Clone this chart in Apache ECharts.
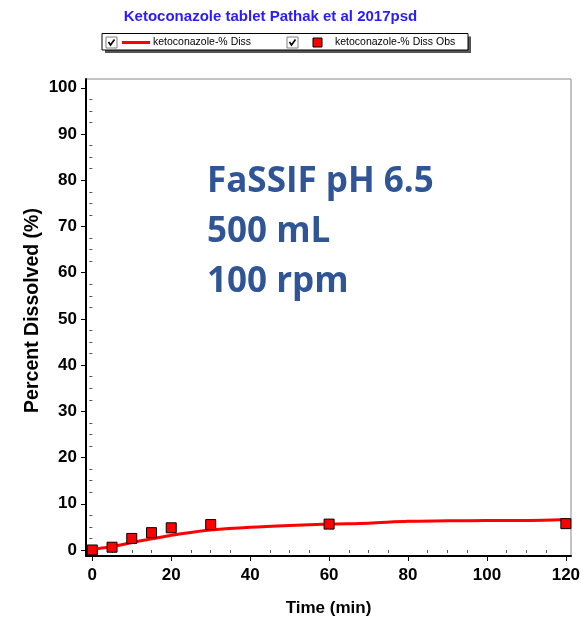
<!DOCTYPE html>
<html>
<head>
<meta charset="utf-8">
<script src="https://cdn.jsdelivr.net/npm/echarts@6/dist/echarts.min.js"></script>
<style>html,body{margin:0;padding:0;background:#fff;}#c{width:581px;height:624px;}</style>
</head>
<body>
<div id="c"></div>
<script>
// Data
var fitTime = [0, 5, 10, 15, 20, 25, 30, 40, 50, 60, 70, 80, 90, 100, 110, 120];
var fitDiss = [0.2, 0.7, 1.6, 2.4, 3.2, 3.8, 4.3, 4.9, 5.3, 5.6, 5.8, 6.2, 6.3, 6.4, 6.4, 6.6];
var obsTime = [0, 5, 10, 15, 20, 30, 60, 120];
var obsDiss = [0, 0.6, 2.5, 3.75, 4.8, 5.5, 5.6, 5.7];
var xMajor = [0, 20, 40, 60, 80, 100, 120];
var yMajor = [0, 10, 20, 30, 40, 50, 60, 70, 80, 90, 100];
var xMinor = [5, 10, 15, 25, 30, 35, 45, 50, 55, 65, 70, 75, 85, 90, 95, 105, 110, 115];
var yMinor = [2.5, 5, 7.5, 12.5, 15, 17.5, 22.5, 25, 27.5, 32.5, 35, 37.5, 42.5, 45, 47.5, 52.5, 55, 57.5, 62.5, 65, 67.5, 72.5, 75, 77.5, 82.5, 85, 87.5, 92.5, 95, 97.5];
var titleText = 'Ketoconazole tablet Pathak et al 2017psd';
var legendNames = ['ketoconazole-% Diss', 'ketoconazole-% Diss Obs'];
var noteLines = ['FaSSIF pH 6.5', '500 mL', '100 rpm'];

var chart = echarts.init(document.getElementById('c'), null, {renderer: 'canvas'});
var XMIN = -1.6, XMAX = 121.3, YMIN = -1.3, YMAX = 101.9;
var tickLabel = {color: '#000', fontFamily: 'Arial, "Liberation Sans", sans-serif', fontWeight: 'bold', fontSize: 17};

function checkbox(x, y) {
  return [
    {type: 'rect', shape: {x: x, y: y, width: 11, height: 11}, style: {fill: '#fff', stroke: '#808080', lineWidth: 1}},
    {type: 'polyline', shape: {points: [[x + 2.5, y + 5], [x + 4.5, y + 8], [x + 8.5, y + 2.5]]}, style: {stroke: '#000', lineWidth: 1.6, fill: null}}
  ];
}

var graphics = [
  {type: 'rect', shape: {x: 105, y: 36.5, width: 366, height: 16.5}, style: {fill: '#555'}},
  {type: 'rect', shape: {x: 102, y: 33.5, width: 366, height: 16.5}, style: {fill: '#fff', stroke: '#000', lineWidth: 1}}
].concat(checkbox(106, 37)).concat([
  {type: 'line', shape: {x1: 122, y1: 42.5, x2: 150, y2: 42.5}, style: {stroke: '#ff0000', lineWidth: 3}},
  {type: 'text', x: 153, y: 42.5, style: {text: legendNames[0], fill: '#000', fontFamily: 'Arial, "Liberation Sans", sans-serif', fontSize: 10.5, verticalAlign: 'middle'}}
]).concat(checkbox(287, 37)).concat([
  {type: 'rect', shape: {x: 313, y: 38, width: 9, height: 9}, style: {fill: '#ff0000', stroke: '#000', lineWidth: 1}},
  {type: 'text', x: 335, y: 42.5, style: {text: legendNames[1], fill: '#000', fontFamily: 'Arial, "Liberation Sans", sans-serif', fontSize: 10.5, verticalAlign: 'middle'}}
]);
noteLines.forEach(function (t, i) {
  graphics.push({type: 'text', x: 207, y: 182 + i * 50, style: {text: t, fill: '#2F5597', fontFamily: '"Open Sans", sans-serif', fontWeight: 'bold', fontSize: 35, verticalAlign: 'middle'}});
});

var option = {
  backgroundColor: '#fff',
  animation: false,
  title: {
    text: titleText, left: 265.5, top: 4, textAlign: 'center',
    textStyle: {color: '#2a1aff', fontFamily: 'Arial, "Liberation Sans", sans-serif', fontWeight: 'bold', fontSize: 15}
  },
  grid: {left: 86, right: 10, top: 79, bottom: 68, show: true, borderColor: '#888', borderWidth: 1, backgroundColor: '#fff', outerBoundsMode: 'none', containLabel: false},
  xAxis: [{
    type: 'value', min: XMIN, max: XMAX,
    name: 'Time (min)', nameLocation: 'middle', nameGap: 44,
    nameTextStyle: {color: '#000', fontFamily: 'Arial, "Liberation Sans", sans-serif', fontWeight: 'bold', fontSize: 17},
    axisLine: {show: true, onZero: false, lineStyle: {color: '#000', width: 2}},
    axisTick: {show: true, customValues: xMajor, length: 5, lineStyle: {color: '#000', width: 1}},
    axisLabel: Object.assign({customValues: xMajor, margin: 11}, tickLabel),
    splitLine: {show: false}
  }, {
    type: 'value', min: XMIN, max: XMAX, position: 'bottom',
    axisLine: {show: false},
    axisTick: {show: true, customValues: xMinor, length: 3, lineStyle: {color: '#555', width: 1}},
    axisLabel: {show: false}, splitLine: {show: false}
  }],
  yAxis: [{
    type: 'value', min: YMIN, max: YMAX,
    name: 'Percent Dissolved (%)', nameLocation: 'middle', nameGap: 43, nameRotate: 90, nameMoveOverlap: false,
    nameTextStyle: {color: '#000', fontFamily: 'Arial, "Liberation Sans", sans-serif', fontWeight: 'bold', fontSize: 19.5, padding: [0, 0, 0, 14]},
    axisLine: {show: true, onZero: false, lineStyle: {color: '#000', width: 2}},
    axisTick: {show: true, customValues: yMajor, length: 5, lineStyle: {color: '#000', width: 1}},
    axisLabel: Object.assign({customValues: yMajor, margin: 9}, tickLabel),
    splitLine: {show: false}
  }, {
    type: 'value', min: YMIN, max: YMAX, position: 'left',
    axisLine: {show: false},
    axisTick: {show: true, customValues: yMinor, length: 3, lineStyle: {color: '#555', width: 1}},
    axisLabel: {show: false}, splitLine: {show: false}
  }],
  series: [{
    name: legendNames[0], type: 'line', xAxisIndex: 0, yAxisIndex: 0,
    data: fitTime.map(function (t, i) { return [t, fitDiss[i]]; }),
    symbol: 'none', smooth: 0.3, lineStyle: {color: '#ff0000', width: 3}, z: 2
  }, {
    name: legendNames[1], type: 'scatter', xAxisIndex: 0, yAxisIndex: 0,
    data: obsTime.map(function (t, i) { return [t, obsDiss[i]]; }),
    symbol: 'rect', symbolSize: 10,
    itemStyle: {color: '#ff0000', borderColor: '#000', borderWidth: 1, opacity: 1}, z: 3
  }],
  graphic: graphics
};
chart.setOption(option);
</script>
</body>
</html>
